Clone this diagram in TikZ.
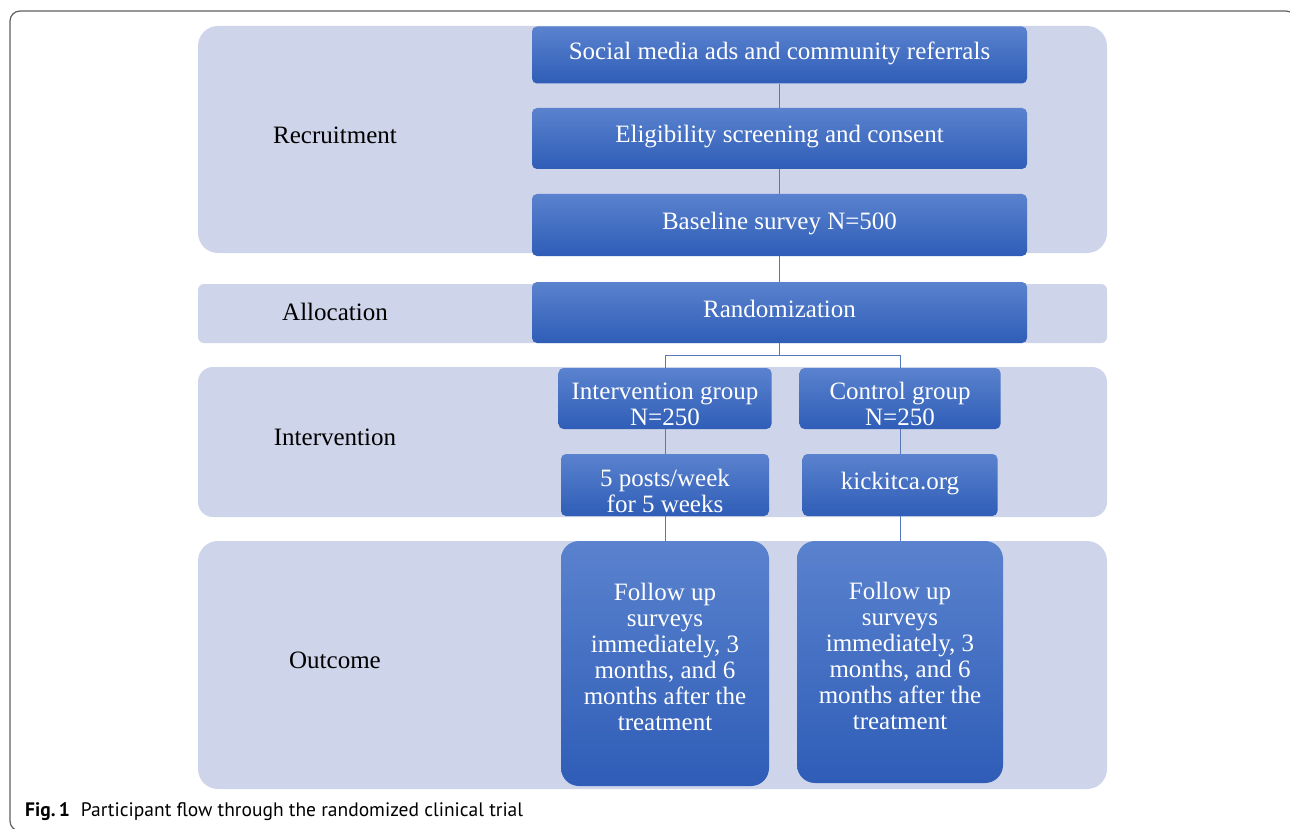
\documentclass[tikz,border=0pt]{standalone}
\usepackage{fontspec}
\setmainfont{Liberation Serif}
\newfontfamily\capfont{PT Sans}
\usepackage{tikz}

\definecolor{bandgray}{HTML}{CED4E9}
\definecolor{boxtop}{HTML}{5A82CE}
\definecolor{boxbot}{HTML}{2F5DB7}
\definecolor{linkblue}{HTML}{5677BA}
\definecolor{framegray}{HTML}{5F5F5F}

% extra room above / below a block of lines
\newcommand{\toppad}{\rule{0pt}{29pt}}
\newcommand{\botpad}{\rule[-13pt]{0pt}{0pt}}

\begin{document}
\begin{tikzpicture}[x=1pt,y=-1pt,
    band/.style={fill=bandgray},
    stage/.style={font=\fontsize{25}{26}\selectfont,text=black},
    box/.style={rounded corners=5pt,top color=boxtop,bottom color=boxbot,
      text=white,font=\fontsize{25}{26}\selectfont,align=center,inner sep=0pt},
    onebox/.style={box,text height=17pt,text depth=8pt},
    link/.style={draw=linkblue,line width=1pt}]
    \useasboundingbox (0,0) rectangle (1290,829);
    \begin{scope}
      \clip (0,0) rectangle (1290,829);
      \draw [framegray,line width=1.2pt,rounded corners=10pt] (10,11) rectangle (1296,831);
    \end{scope}
    % stage bands
    \fill [band,rounded corners=20pt] (198,26) rectangle (1107,253);
    \fill [band,rounded corners=6pt] (198,284) rectangle (1107,343);
    \fill [band,rounded corners=15pt] (198,367) rectangle (1107,517);
    \fill [band,rounded corners=20pt] (198,541) rectangle (1107,789);
    \node [stage] (recr) at (335,135) {Recruitment};
    \node [stage] (alloc) at (335,312) {Allocation};
    \node [stage] (interv) at (335,437) {Intervention};
    \node [stage] (outc) at (335,660) {Outcome};
    % flow boxes
    \node [onebox,minimum width=495pt,minimum height=57pt] (ads) at (779.5,55) {Social media ads and community referrals};
    \node [onebox,minimum width=495pt,minimum height=61pt] (elig) at (779.5,138.5) {Eligibility screening and consent};
    \node [onebox,minimum width=495pt,minimum height=62pt] (base) at (779.5,225) {Baseline survey N=500};
    \node [onebox,minimum width=495pt,minimum height=61pt] (rand) at (779.5,312.5) {Randomization};
    \node [box,minimum width=213pt,minimum height=61pt] (intg) at (665,398.5) {\toppad Intervention group\\N=250};
    \node [box,minimum width=201pt,minimum height=61pt] (ctrl) at (900,398.5) {\toppad Control group\\N=250};
    \node [box,minimum width=208pt,minimum height=62pt] (posts) at (665,485) {\toppad 5 posts/week\\for 5 weeks};
    \node [onebox,minimum width=195pt,minimum height=62pt] (kick) at (900,485) {kickitca.org};
    \node [box,rounded corners=18pt,minimum width=208pt,minimum height=245pt] (fol1) at (665,663.5)
      {Follow up\\surveys\\immediately, 3\\months, and 6\\months after the\\treatment\botpad};
    \node [box,rounded corners=18pt,minimum width=206pt,minimum height=242pt] (fol2) at (900,662)
      {Follow up\\surveys\\immediately, 3\\months, and 6\\months after the\\treatment\botpad};
    % connectors
    \draw [link] (ads) -- (elig);
    \draw [link] (elig) -- (base);
    \draw [link] (base) -- (rand);
    \draw [link] (rand.south) -- ++(0,12) -| (intg.north);
    \draw [link] (rand.south) -- ++(0,12) -| (ctrl.north);
    \draw [link] (intg) -- (posts);
    \draw [link] (posts) -- (fol1);
    \draw [link] (ctrl) -- (kick);
    \draw [link] (kick) -- (fol2);
    % caption
    \node [anchor=base west,inner sep=0pt,font=\capfont\fontsize{19.5}{21}\selectfont] (cap) at (25,816)
      {\textbf{Fig.\,1}\hspace{11pt}Participant flow through the randomized clinical trial};
\end{tikzpicture}
\end{document}
